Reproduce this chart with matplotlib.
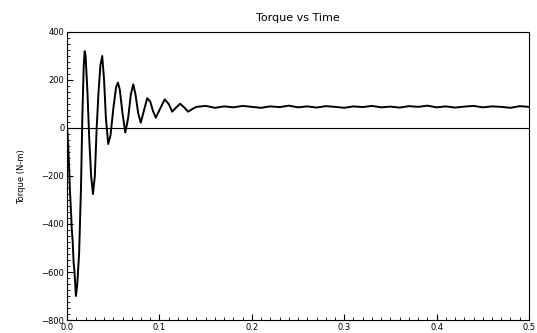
import matplotlib
matplotlib.use("Agg")
import matplotlib.pyplot as plt
from matplotlib.ticker import MultipleLocator

# values
time_s = [0.000, 0.001, 0.002, 0.003, 0.004, 0.005, 0.006, 0.007, 0.008, 0.0095,
          0.011, 0.013, 0.015, 0.0165, 0.018, 0.019, 0.020, 0.022, 0.024, 0.026,
          0.028, 0.030, 0.032, 0.034, 0.036, 0.038, 0.040, 0.042, 0.0445, 0.047,
          0.050, 0.053, 0.055, 0.057, 0.060, 0.063, 0.066, 0.069, 0.0716, 0.074,
          0.077, 0.0797, 0.083, 0.0867, 0.090, 0.093, 0.096, 0.100, 0.1056, 0.110,
          0.1137, 0.118, 0.1224, 0.127, 0.131, 0.136, 0.140, 0.150, 0.160, 0.170,
          0.180, 0.190, 0.200, 0.210, 0.220, 0.230, 0.240, 0.250, 0.260, 0.270,
          0.280, 0.290, 0.300, 0.310, 0.320, 0.330, 0.340, 0.350, 0.360, 0.370,
          0.380, 0.390, 0.400, 0.410, 0.420, 0.430, 0.440, 0.450, 0.460, 0.470,
          0.480, 0.490, 0.500]
torque = [0, -60, -150, -260, -330, -420, -470, -560, -600, -700,
          -650, -520, -250, 50, 260, 320, 300, 150, -50, -200,
          -275, -200, 0, 150, 260, 300, 200, 40, -67, -30,
          80, 170, 189, 160, 60, -19, 40, 140, 182, 140,
          60, 22, 70, 124, 110, 70, 43, 75, 119, 100,
          68, 85, 101, 85, 68, 80, 88, 92, 84, 90,
          86, 92, 88, 84, 90, 87, 93, 86, 90, 85,
          91, 88, 84, 90, 87, 92, 86, 89, 85, 91,
          88, 93, 86, 90, 85, 89, 92, 86, 90, 88,
          84, 91, 88]

y_ticks = [-800, -600, -400, -200, 0, 200, 400]
x_ticks = [0, 0.1, 0.2, 0.3, 0.4, 0.5]

fig = plt.figure(figsize=(5.37, 3.33), dpi=100)
ax = fig.add_axes([0.125, 0.039, 0.86, 0.865])
ax.plot(time_s, torque, color='black', lw=1.4)
ax.axhline(0, color='black', lw=0.8)

ax.set_xlim(0, 0.5)
ax.set_ylim(-800, 400)
ax.set_xticks(x_ticks)
ax.set_yticks(y_ticks)
ax.xaxis.set_minor_locator(MultipleLocator(0.01))
ax.yaxis.set_minor_locator(MultipleLocator(25))
ax.tick_params(which='both', direction='in', labelsize=6, pad=2)
ax.tick_params(which='major', length=4)
ax.tick_params(which='minor', length=2)
for s in ax.spines.values():
    s.set_linewidth(0.8)

ax.set_title("Torque vs Time", fontsize=8, pad=8)
fig.text(0.04, 0.47, "Torque (N-m)", rotation=90, fontsize=6, ha='center', va='center')

fig.savefig("out.png", dpi=100)
